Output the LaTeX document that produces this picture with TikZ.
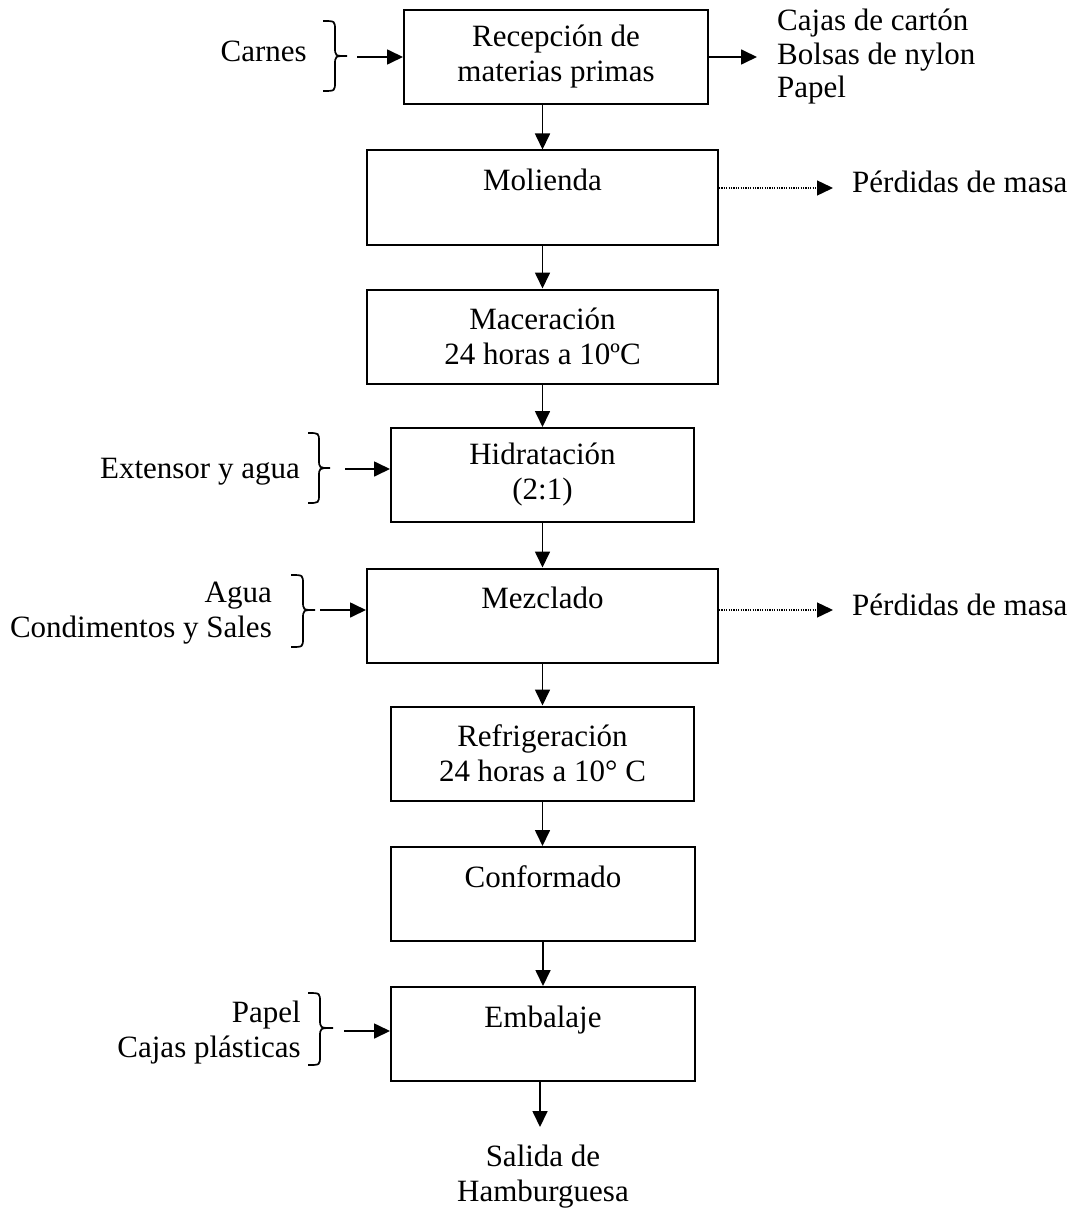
\documentclass[tikz,border=0pt]{standalone}
\usepackage{fontspec}
\setmainfont{Liberation Serif}
\usetikzlibrary{arrows.meta}
% right curly brace: left x, stem x, tip x, top y, tip y, bottom y
\newcommand\curlybrace[6]{%
  \draw[brace] (#1,#4) .. controls (#2,#4) .. (#2,{#4+9}) -- (#2,{#5-9})
    .. controls (#2,#5) .. (#3,#5) .. controls (#2,#5) .. (#2,{#5+9})
    -- (#2,{#6-9}) .. controls (#2,#6) .. (#1,#6);}
\begin{document}
\begin{tikzpicture}[x=1pt,y=-1pt,
  every node/.style={font=\fontsize{31}{35}\selectfont, inner sep=0pt},
  proc/.style={draw, line width=2pt, rectangle, align=center, minimum height=94pt},
  wide/.style={proc, minimum width=351pt},
  narrow/.style={proc, minimum width=303pt},
  flow/.style={line width=1.7pt, -{Triangle[length=16pt,width=15pt]}},
  loss/.style={line width=1.4pt, dash pattern=on 1.2pt off 1.2pt, -{Triangle[length=16pt,width=15pt]}},
  brace/.style={line width=1.7pt}]
\fill[white] (0,0) rectangle (1075,1209);
\useasboundingbox (0,0) rectangle (1075,1209);

% process steps
\node[proc, minimum width=304pt] (rec) at (556,57) {Recepción de\\materias primas};
\node[wide] (mol) at (542.5,197.5) {Molienda\\\mbox{}};
\node[wide] (mac) at (542.5,336.5) {Maceración\\24 horas a 10ºC};
\node[narrow] (hid) at (542.5,475) {Hidratación\\(2:1)};
\node[wide] (mez) at (542.5,615.5) {Mezclado\\\mbox{}};
\node[narrow] (ref) at (542.5,753.5) {Refrigeración\\24 horas a 10° C};
\node[proc, minimum width=304pt] (con) at (543,894) {Conformado\\\mbox{}};
\node[proc, minimum width=304pt] (emb) at (543,1034) {Embalaje\\\mbox{}};

% main flow
\draw[flow] (rec.south -| mol.north) -- (mol.north);
\draw[flow] (mol.south) -- (mac.north);
\draw[flow] (mac.south) -- (hid.north);
\draw[flow] (hid.south) -- (mez.north);
\draw[flow] (mez.south) -- (ref.north);
\draw[flow] (ref.south) -- (ref.south |- con.north);
\draw[flow] (con.south) -- (emb.north);
\coordinate (out) at (540,1127);
\draw[flow] (emb.south -| out) -- (out);
\node[anchor=north, align=center] (salida) at (543,1145) {Salida de\\Hamburguesa};

% inputs
\node[anchor=base east] (carnes) at (307,62) {Carnes};
\curlybrace{323}{335}{347}{21}{56}{91}
\coordinate (inA) at (357,57);
\draw[flow] (inA) -- (inA -| rec.west);

\node[anchor=base east] (ext) at (300,478) {Extensor y agua};
\curlybrace{308}{319}{330}{433}{468}{503}
\coordinate (inB) at (345,469);
\draw[flow] (inB) -- (inB -| hid.west);

\node[anchor=north east, align=right] (agua) at (272,581.5) {Agua\\Condimentos y Sales};
\curlybrace{291}{303}{315}{575}{610}{647}
\coordinate (inC) at (320,610);
\draw[flow] (inC) -- (inC -| mez.west);

\node[anchor=north east, align=right] (papel) at (301,1001) {Papel\\Cajas plásticas};
\curlybrace{308}{320}{333}{993}{1028}{1065}
\coordinate (inD) at (344,1031);
\draw[flow] (inD) -- (inD -| emb.west);

% outputs
\coordinate (outA) at (757,57);
\draw[flow] (rec.east |- outA) -- (outA);
\node[anchor=north west, align=left, font=\fontsize{31}{33.5}\selectfont] (empaques) at (777,9)
  {Cajas de cartón\\Bolsas de nylon\\Papel};

\coordinate (lossA) at (833,188);
\draw[loss] (mol.east |- lossA) -- (lossA);
\node[anchor=base west] (perdA) at (852,193) {Pérdidas de masa};
\coordinate (lossB) at (833,610);
\draw[loss] (mez.east |- lossB) -- (lossB);
\node[anchor=base west] (perdB) at (852,615) {Pérdidas de masa};
\end{tikzpicture}
\end{document}
